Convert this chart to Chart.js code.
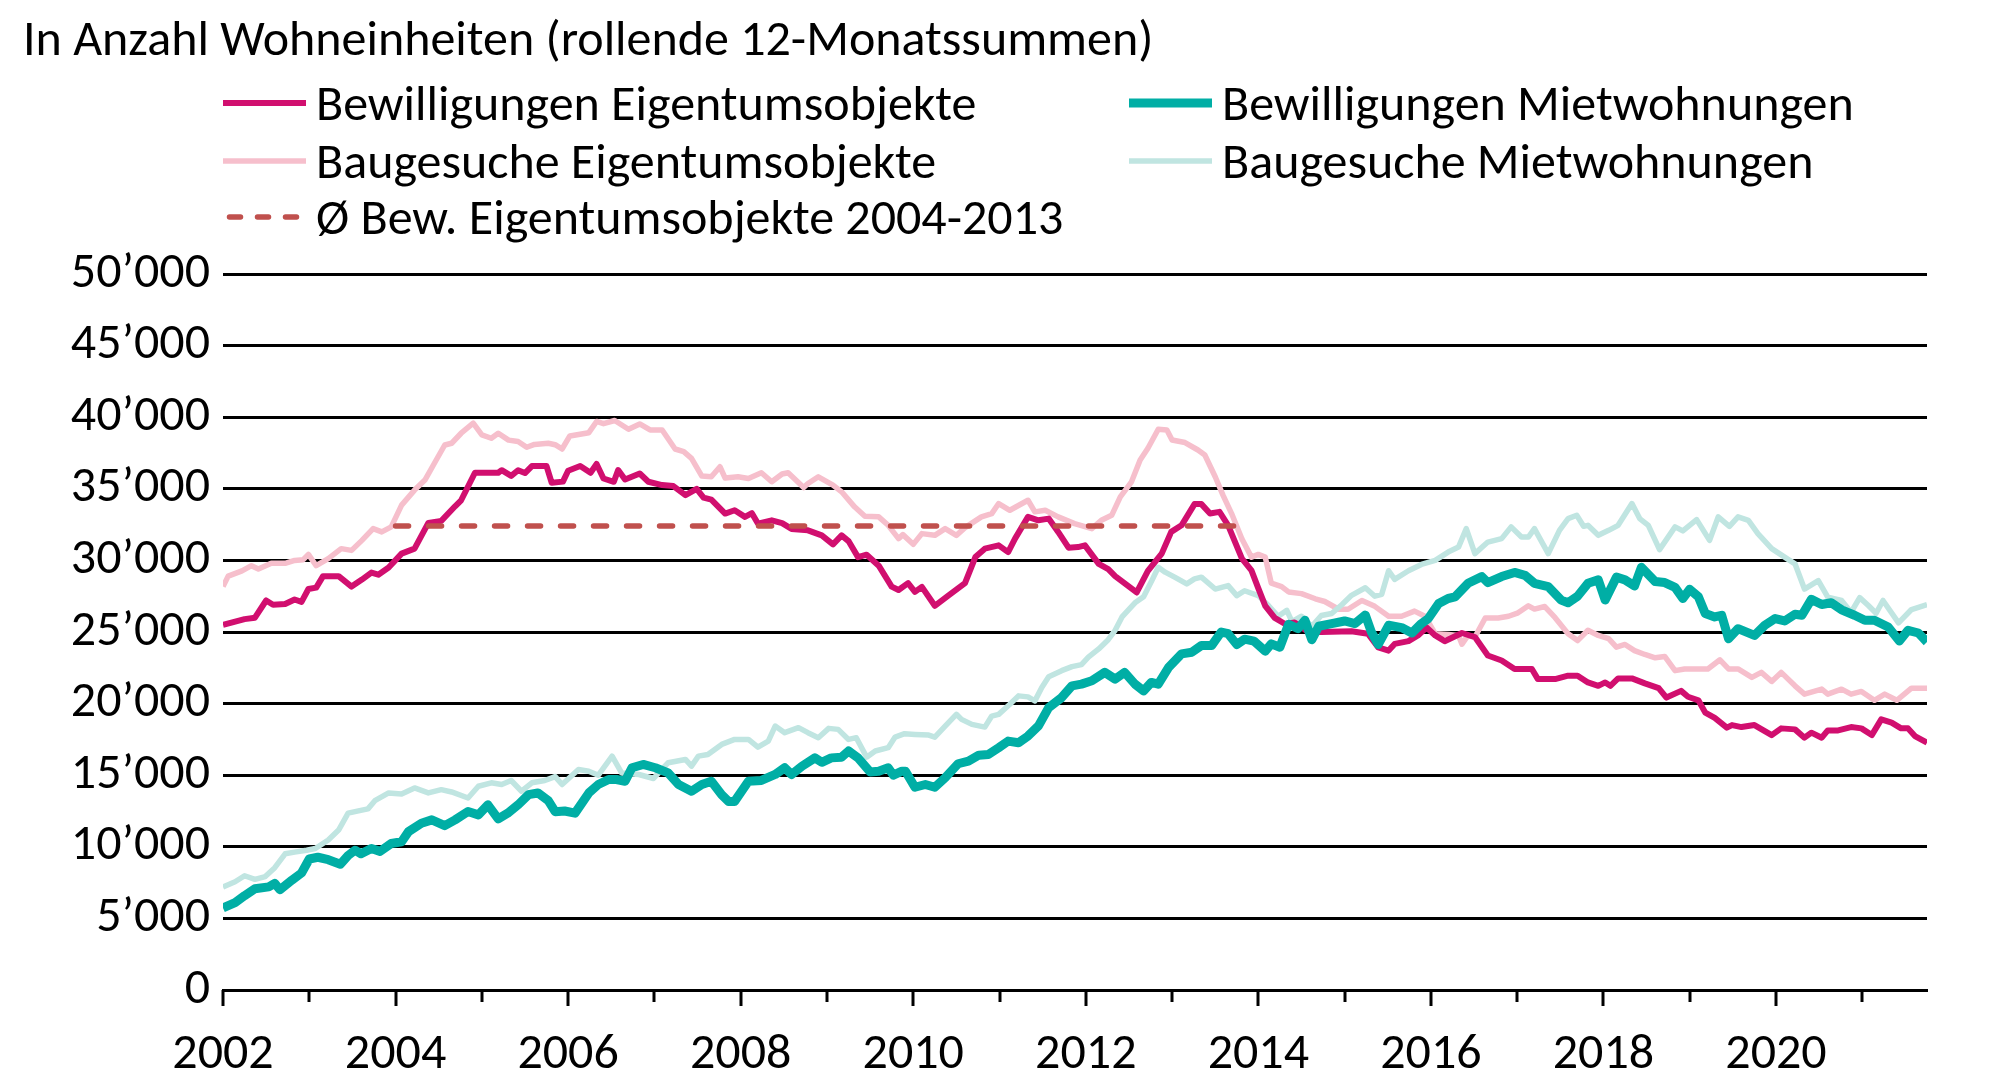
<!DOCTYPE html>
<html lang="de">
<head>
<meta charset="UTF-8">
<title>Wohneinheiten</title>
<script src="https://cdn.jsdelivr.net/npm/chart.js"></script>
<style>
  body { margin: 0; background: #fff; }
  #wrap { position: relative; width: 2000px; height: 1084px; font-family: Carlito, "Liberation Sans Narrow", sans-serif; color: #000; }
  #title { position: absolute; left: 23px; top: 13px; font-size: 50px; line-height: 50px; white-space: nowrap; }
  .item { position: absolute; height: 50px; display: flex; align-items: center; font-size: 50px; line-height: 50px; white-space: nowrap; }
  .item svg { margin-right: 10px; }
</style>
</head>
<body>
<div id="wrap">
  <canvas id="chart" width="2000" height="1084"></canvas>
  <div id="title">In Anzahl Wohneinheiten (rollende 12-Monatssummen)</div>
  <div id="legend"></div>
</div>
<script>
const bewEigentum = [[2002.00,25500],[2002.25,25900],[2002.37,26000],[2002.50,27200],[2002.58,26900],[2002.72,26950],[2002.83,27270],[2002.91,27100],[2002.99,28000],[2003.08,28100],[2003.16,28900],[2003.34,28900],[2003.49,28170],[2003.61,28660],[2003.72,29150],[2003.80,29000],[2003.92,29500],[2004.07,30470],[2004.22,30820],[2004.38,32620],[2004.53,32760],[2004.69,33780],[2004.76,34200],[2004.92,36120],[2005.19,36120],[2005.23,36300],[2005.34,35900],[2005.42,36300],[2005.50,36100],[2005.58,36590],[2005.75,36590],[2005.81,35420],[2005.94,35500],[2006.00,36260],[2006.14,36590],[2006.26,36120],[2006.33,36730],[2006.41,35720],[2006.53,35490],[2006.58,36310],[2006.66,35650],[2006.83,36070],[2006.93,35490],[2007.09,35260],[2007.22,35190],[2007.36,34560],[2007.49,35000],[2007.57,34390],[2007.66,34250],[2007.82,33270],[2007.93,33500],[2008.05,33040],[2008.13,33300],[2008.20,32570],[2008.36,32800],[2008.48,32600],[2008.59,32200],[2008.78,32100],[2008.94,31750],[2009.07,31120],[2009.17,31750],[2009.25,31350],[2009.36,30230],[2009.46,30400],[2009.60,29630],[2009.75,28170],[2009.83,27930],[2009.94,28410],[2010.02,27800],[2010.10,28150],[2010.25,26830],[2010.41,27560],[2010.60,28410],[2010.72,30230],[2010.83,30820],[2010.99,31050],[2011.10,30580],[2011.18,31520],[2011.33,33040],[2011.45,32800],[2011.57,32920],[2011.68,31990],[2011.80,30890],[2011.91,30930],[2011.99,31050],[2012.15,29760],[2012.26,29390],[2012.34,28900],[2012.49,28220],[2012.59,27760],[2012.72,29270],[2012.88,30470],[2012.99,31990],[2013.11,32450],[2013.26,33930],[2013.34,33930],[2013.44,33270],[2013.55,33390],[2013.65,32450],[2013.81,30120],[2013.92,29300],[2014.00,28050],[2014.08,26830],[2014.19,25980],[2014.31,25560],[2014.42,25660],[2014.58,25000],[2014.73,25000],[2015.08,25050],[2015.27,24880],[2015.39,23930],[2015.51,23700],[2015.58,24170],[2015.74,24360],[2015.85,24760],[2015.95,25310],[2016.05,24760],[2016.16,24360],[2016.36,24930],[2016.51,24650],[2016.66,23360],[2016.82,23010],[2016.97,22420],[2017.17,22420],[2017.24,21710],[2017.44,21710],[2017.59,21950],[2017.70,21950],[2017.82,21480],[2017.94,21240],[2018.02,21480],[2018.08,21240],[2018.17,21760],[2018.33,21760],[2018.48,21410],[2018.64,21080],[2018.73,20420],[2018.90,20890],[2018.98,20480],[2019.10,20230],[2019.18,19370],[2019.29,19000],[2019.43,18320],[2019.49,18500],[2019.60,18360],[2019.75,18500],[2019.95,17800],[2020.06,18270],[2020.22,18200],[2020.33,17620],[2020.41,17970],[2020.53,17620],[2020.60,18130],[2020.72,18130],[2020.87,18360],[2020.99,18270],[2021.11,17800],[2021.22,18900],[2021.34,18670],[2021.45,18270],[2021.53,18270],[2021.61,17730],[2021.75,17270]];

const bauEigentum = [[2002.00,28170],[2002.06,28900],[2002.22,29270],[2002.33,29630],[2002.41,29400],[2002.56,29800],[2002.72,29800],[2002.83,30000],[2002.93,30050],[2002.99,30420],[2003.08,29630],[2003.22,30120],[2003.37,30820],[2003.49,30700],[2003.61,31400],[2003.74,32220],[2003.84,31990],[2003.95,32340],[2004.07,33860],[2004.22,34910],[2004.34,35610],[2004.46,36890],[2004.57,38060],[2004.65,38180],[2004.76,38880],[2004.90,39580],[2005.00,38760],[2005.11,38530],[2005.19,38880],[2005.31,38400],[2005.42,38300],[2005.52,37900],[2005.61,38100],[2005.77,38180],[2005.85,38080],[2005.93,37780],[2006.02,38690],[2006.24,38920],[2006.33,39700],[2006.41,39550],[2006.54,39770],[2006.70,39160],[2006.83,39530],[2006.95,39110],[2007.09,39110],[2007.24,37780],[2007.34,37600],[2007.43,37130],[2007.55,35890],[2007.66,35840],[2007.76,36540],[2007.82,35750],[2007.97,35840],[2008.09,35720],[2008.24,36120],[2008.36,35490],[2008.48,36030],[2008.55,36120],[2008.73,35090],[2008.78,35370],[2008.90,35840],[2009.07,35260],[2009.17,34790],[2009.32,33740],[2009.44,33080],[2009.60,33040],[2009.71,32450],[2009.83,31520],[2009.88,31800],[2010.00,31120],[2010.10,31870],[2010.25,31750],[2010.37,32220],[2010.50,31750],[2010.60,32290],[2010.79,33040],[2010.91,33270],[2010.99,33970],[2011.12,33500],[2011.33,34200],[2011.41,33390],[2011.53,33500],[2011.68,33040],[2011.87,32570],[2012.07,32220],[2012.18,32800],[2012.30,33150],[2012.40,34440],[2012.53,35490],[2012.63,37010],[2012.72,37830],[2012.84,39160],[2012.94,39110],[2013.00,38410],[2013.15,38230],[2013.30,37710],[2013.38,37360],[2013.50,35840],[2013.59,34560],[2013.69,33270],[2013.81,31500],[2013.92,30230],[2014.00,30420],[2014.08,30230],[2014.15,28410],[2014.27,28170],[2014.35,27800],[2014.50,27680],[2014.66,27320],[2014.77,27130],[2014.93,26590],[2015.04,26590],[2015.20,27200],[2015.35,26790],[2015.51,26100],[2015.66,26100],[2015.81,26460],[2015.93,26100],[2016.05,24880],[2016.20,24830],[2016.32,24760],[2016.36,24150],[2016.43,24760],[2016.51,24650],[2016.63,25980],[2016.78,25980],[2016.90,26100],[2017.01,26340],[2017.13,26830],[2017.20,26600],[2017.32,26780],[2017.44,26000],[2017.59,24880],[2017.70,24400],[2017.82,25120],[2017.94,24760],[2018.06,24530],[2018.15,23940],[2018.25,24130],[2018.36,23700],[2018.48,23430],[2018.60,23200],[2018.71,23290],[2018.83,22300],[2018.94,22420],[2019.21,22420],[2019.35,23060],[2019.45,22420],[2019.56,22420],[2019.72,21830],[2019.83,22180],[2019.95,21550],[2020.06,22180],[2020.22,21240],[2020.33,20660],[2020.53,21010],[2020.60,20660],[2020.76,21010],[2020.87,20660],[2020.99,20850],[2021.14,20230],[2021.26,20660],[2021.40,20230],[2021.57,21080],[2021.75,21080]];

const bewMiete = [[2002.00,5730],[2002.14,6100],[2002.25,6590],[2002.37,7070],[2002.53,7200],[2002.60,7440],[2002.66,7000],[2002.80,7680],[2002.91,8170],[2003.00,9150],[2003.10,9270],[2003.22,9100],[2003.36,8780],[2003.45,9390],[2003.53,9760],[2003.60,9510],[2003.72,9880],[2003.82,9680],[2003.95,10230],[2004.07,10350],[2004.15,11060],[2004.30,11640],[2004.42,11880],[2004.57,11480],[2004.69,11880],[2004.84,12460],[2004.96,12230],[2005.07,12930],[2005.19,11950],[2005.30,12350],[2005.42,12930],[2005.54,13640],[2005.65,13760],[2005.77,13220],[2005.85,12450],[2005.96,12500],[2006.08,12350],[2006.24,13760],[2006.35,14350],[2006.47,14700],[2006.56,14700],[2006.66,14580],[2006.74,15520],[2006.87,15750],[2007.01,15520],[2007.16,15160],[2007.28,14350],[2007.43,13880],[2007.55,14350],[2007.66,14580],[2007.78,13640],[2007.86,13170],[2007.93,13170],[2008.09,14580],[2008.24,14630],[2008.40,15050],[2008.51,15520],[2008.59,15050],[2008.71,15630],[2008.86,16210],[2008.94,15900],[2009.05,16210],[2009.17,16260],[2009.25,16690],[2009.36,16210],[2009.50,15230],[2009.60,15280],[2009.71,15520],[2009.77,15000],[2009.87,15280],[2009.91,15280],[2010.02,14160],[2010.14,14350],[2010.25,14160],[2010.37,14820],[2010.52,15800],[2010.64,15980],[2010.76,16400],[2010.87,16450],[2010.99,16920],[2011.10,17380],[2011.22,17270],[2011.33,17730],[2011.45,18430],[2011.57,19720],[2011.72,20420],[2011.84,21240],[2011.95,21360],[2012.07,21590],[2012.22,22180],[2012.34,21710],[2012.45,22180],[2012.57,21360],[2012.67,20890],[2012.76,21480],[2012.84,21360],[2012.96,22530],[2013.11,23470],[2013.23,23590],[2013.34,24060],[2013.46,24060],[2013.57,25000],[2013.65,24880],[2013.75,24130],[2013.84,24500],[2013.95,24360],[2014.08,23660],[2014.15,24170],[2014.25,23940],[2014.35,25540],[2014.46,25240],[2014.54,25820],[2014.62,24460],[2014.70,25400],[2014.85,25590],[2015.00,25770],[2015.12,25590],[2015.24,26180],[2015.31,25000],[2015.39,24130],[2015.51,25470],[2015.66,25310],[2015.78,24930],[2015.89,25590],[2015.97,25940],[2016.09,26990],[2016.20,27340],[2016.28,27450],[2016.43,28400],[2016.59,28870],[2016.66,28450],[2016.82,28870],[2016.97,29160],[2017.09,28960],[2017.20,28400],[2017.36,28170],[2017.51,27230],[2017.59,27040],[2017.70,27500],[2017.82,28400],[2017.94,28640],[2018.02,27230],[2018.15,28830],[2018.25,28640],[2018.36,28210],[2018.44,29520],[2018.60,28520],[2018.71,28450],[2018.83,28120],[2018.92,27340],[2019.00,27980],[2019.10,27460],[2019.18,26290],[2019.29,26050],[2019.37,26170],[2019.45,24530],[2019.56,25230],[2019.75,24760],[2019.87,25470],[2019.99,25940],[2020.10,25770],[2020.22,26240],[2020.30,26170],[2020.41,27280],[2020.53,26920],[2020.64,27040],[2020.76,26550],[2020.91,26170],[2021.03,25820],[2021.14,25820],[2021.30,25350],[2021.43,24370],[2021.53,25120],[2021.65,24930],[2021.75,24300]];

const bauMiete = [[2002.00,7200],[2002.14,7560],[2002.25,7980],[2002.37,7730],[2002.49,7920],[2002.60,8540],[2002.72,9510],[2002.83,9630],[2002.97,9760],[2003.07,9880],[2003.22,10470],[2003.34,11170],[2003.45,12350],[2003.57,12510],[2003.68,12650],[2003.76,13220],[2003.92,13760],[2004.07,13690],[2004.22,14110],[2004.38,13760],[2004.53,13990],[2004.65,13830],[2004.84,13410],[2004.96,14230],[2005.11,14470],[2005.23,14350],[2005.34,14630],[2005.46,13880],[2005.58,14470],[2005.73,14630],[2005.85,14900],[2005.93,14350],[2006.12,15400],[2006.24,15280],[2006.35,15000],[2006.51,16330],[2006.62,15160],[2006.82,15050],[2006.99,14770],[2007.16,15870],[2007.36,16100],[2007.43,15630],[2007.51,16330],[2007.62,16450],[2007.78,17150],[2007.93,17500],[2008.09,17500],[2008.20,16960],[2008.32,17380],[2008.40,18430],[2008.51,17970],[2008.67,18320],[2008.78,17970],[2008.90,17620],[2009.02,18270],[2009.13,18200],[2009.25,17500],[2009.34,17620],[2009.46,16260],[2009.56,16690],[2009.71,16920],[2009.79,17660],[2009.90,17900],[2010.02,17850],[2010.18,17800],[2010.25,17660],[2010.37,18430],[2010.50,19250],[2010.56,18900],[2010.68,18550],[2010.83,18360],[2010.91,19130],[2010.99,19250],[2011.12,19950],[2011.22,20540],[2011.33,20470],[2011.41,20190],[2011.49,21130],[2011.57,21880],[2011.72,22300],[2011.84,22580],[2011.95,22720],[2012.03,23240],[2012.15,23820],[2012.26,24460],[2012.34,25120],[2012.42,26050],[2012.57,27040],[2012.67,27460],[2012.76,28520],[2012.84,29520],[2012.92,29180],[2013.03,28830],[2013.17,28360],[2013.26,28710],[2013.34,28830],[2013.50,28000],[2013.65,28240],[2013.75,27540],[2013.84,27880],[2014.00,27540],[2014.12,26830],[2014.23,26100],[2014.33,26510],[2014.39,25730],[2014.50,26100],[2014.62,25400],[2014.73,26150],[2014.85,26290],[2014.97,26920],[2015.08,27560],[2015.24,28090],[2015.35,27500],[2015.43,27630],[2015.51,29280],[2015.58,28680],[2015.74,29280],[2015.89,29720],[2016.05,30000],[2016.20,30580],[2016.32,30930],[2016.41,32220],[2016.51,30470],[2016.66,31280],[2016.82,31520],[2016.93,32340],[2017.05,31630],[2017.13,31630],[2017.20,32220],[2017.36,30470],[2017.49,32100],[2017.59,32920],[2017.69,33150],[2017.77,32380],[2017.82,32450],[2017.94,31750],[2018.06,32100],[2018.17,32450],[2018.33,33970],[2018.42,32920],[2018.52,32450],[2018.65,30750],[2018.83,32340],[2018.92,32060],[2019.08,32850],[2019.23,31400],[2019.33,33040],[2019.46,32380],[2019.56,33040],[2019.68,32800],[2019.79,31870],[2019.95,30820],[2020.10,30230],[2020.22,29760],[2020.33,28000],[2020.49,28590],[2020.60,27440],[2020.76,27200],[2020.87,26380],[2020.97,27400],[2021.07,26850],[2021.16,26310],[2021.24,27200],[2021.42,25640],[2021.57,26570],[2021.75,26920]];

// Durchschnitt Bewilligungen Eigentum 2004-2013
const avgEigentum = [[2004.0,32400],[2013.75,32400]];

const yearTicks = [2002,2003,2004,2005,2006,2007,2008,2009,2010,2011,2012,2013,2014,2015,2016,2017,2018,2019,2020,2021];

const FONT = 'Carlito, "Liberation Sans Narrow", sans-serif';

function pts(arr) { return arr.map(p => ({x: p[0], y: p[1]})); }

// legend entries: label, color, width, dash, column, row
const series = [
  {label: 'Bewilligungen Eigentumsobjekte', data: bewEigentum, color: '#D10F6F', width: 6, dash: [], order: 2, col: 0, row: 0},
  {label: 'Bewilligungen Mietwohnungen', data: bewMiete, color: '#00AEA5', width: 9, dash: [], order: 1, col: 1, row: 0},
  {label: 'Baugesuche Eigentumsobjekte', data: bauEigentum, color: '#F6BFCC', width: 5.5, dash: [], order: 4, col: 0, row: 1},
  {label: 'Baugesuche Mietwohnungen', data: bauMiete, color: '#C0E5E1', width: 5.5, dash: [], order: 3, col: 1, row: 1},
  {label: '\u00D8 Bew. Eigentumsobjekte 2004-2013', data: avgEigentum, color: '#C0504D', width: 5.5, dash: [13, 20], order: 0, col: 0, row: 2}
];

// HTML legend
const legendEl = document.getElementById('legend');
const colX = [223, 1129];
const rowY = [103, 161, 217];
series.forEach(s => {
  const d = document.createElement('div');
  d.className = 'item';
  d.style.left = colX[s.col] + 'px';
  d.style.top = (rowY[s.row] - 25) + 'px';
  const line = s.dash.length
    ? '<line x1="6.5" y1="6" x2="76" y2="6" stroke="' + s.color + '" stroke-width="' + s.width + '" stroke-dasharray="11 17" stroke-linecap="round"/>'
    : '<line x1="0" y1="6" x2="83" y2="6" stroke="' + s.color + '" stroke-width="' + s.width + '"/>';
  d.innerHTML = '<svg width="83" height="12">' + line + '</svg><span>' + s.label + '</span>';
  legendEl.appendChild(d);
});

// tick marks under the x axis, long for even years
const xTickMarks = {
  id: 'xTickMarks',
  afterDraw(chart) {
    const xs = chart.scales.x, ctx = chart.ctx;
    const y0 = chart.chartArea.bottom;
    ctx.save();
    ctx.strokeStyle = '#000';
    ctx.lineWidth = 3;
    yearTicks.forEach(yr => {
      const x = Math.round(xs.getPixelForValue(yr));
      ctx.beginPath();
      ctx.moveTo(x, y0);
      ctx.lineTo(x, y0 + (yr % 2 === 0 ? 16 : 12));
      ctx.stroke();
    });
    ctx.restore();
  }
};

new Chart(document.getElementById('chart'), {
  type: 'line',
  data: {
    datasets: series.map(s => ({
      label: s.label,
      data: pts(s.data),
      borderColor: s.color,
      borderWidth: s.width,
      borderDash: s.dash,
      borderCapStyle: s.dash.length ? 'round' : 'butt',
      borderJoinStyle: 'round',
      pointRadius: 0,
      tension: 0,
      fill: false,
      order: s.order
    }))
  },
  options: {
    responsive: false,
    animation: false,
    events: [],
    layout: { padding: { top: 274, right: 73, left: 0, bottom: 0 } },
    plugins: { legend: { display: false }, tooltip: { enabled: false }, title: { display: false } },
    scales: {
      x: {
        type: 'linear',
        min: 2002,
        max: 2021.75,
        afterBuildTicks: scale => { scale.ticks = yearTicks.map(v => ({value: v})); },
        afterFit: scale => { scale.height = 94; },
        grid: { display: false, drawTicks: false },
        border: { display: true, color: '#000', width: 3 },
        ticks: {
          autoSkip: false,
          maxRotation: 0,
          padding: 35,
          color: '#000',
          font: { family: FONT, size: 50 },
          callback: v => (v % 2 === 0 ? String(v) : '')
        }
      },
      y: {
        min: 0,
        max: 50000,
        afterFit: scale => { scale.width = 223; },
        grid: { color: '#000', lineWidth: 3, drawTicks: false },
        border: { display: false },
        ticks: {
          stepSize: 5000,
          padding: 13,
          color: '#000',
          font: { family: FONT, size: 50 },
          callback: v => (v === 0 ? '0' : String(v).replace(/\B(?=(\d{3})+(?!\d))/g, '\u2019'))
        }
      }
    }
  },
  plugins: [xTickMarks]
});
</script>
</body>
</html>
